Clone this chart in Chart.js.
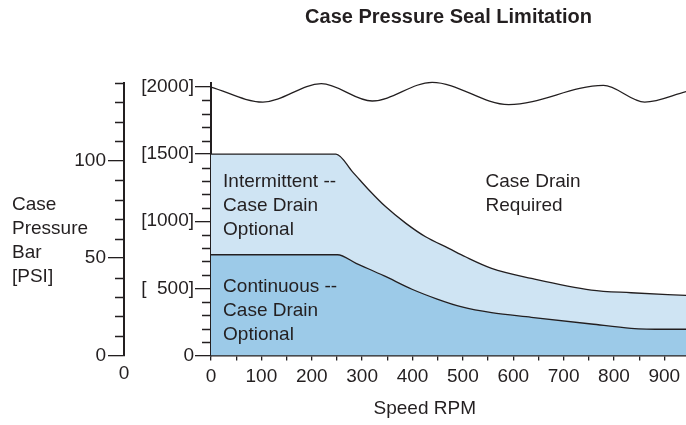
<!DOCTYPE html>
<html>
<head>
<meta charset="utf-8">
<script src="https://cdn.jsdelivr.net/npm/chart.js@4"></script>
<style>
  html, body { margin: 0; padding: 0; background: #fff; }
  #wrap { width: 686px; height: 425px; }
</style>
</head>
<body>
<div id="wrap"><canvas id="sealChart"></canvas></div>
<script>
// speed (RPM) / case pressure (PSI)
const speedContinuous = [0, 251, 288, 344, 399, 449, 498, 557, 636, 755, 834, 901, 943];
const psiContinuous   = [750, 750, 686, 592, 493, 420, 361, 318, 284, 234, 202, 195, 195];

const speedIntermittent = [0, 248, 281, 314, 347, 387, 426, 472, 505, 557, 636, 755, 834, 943];
const psiIntermittent   = [1500, 1500, 1368, 1231, 1107, 984, 884, 798, 735, 649, 574, 487, 467, 447];

// the wavy "break" line near the top of the scale
const speedWave = [0, 103, 219, 320, 439, 591, 779, 861, 943];
const psiWave   = [2000, 1888, 2025, 1896, 2035, 1869, 2012, 1888, 1966];

// axis ticks
const speedTicks = [0, 50, 100, 150, 200, 250, 300, 350, 400, 450, 500, 550, 600, 650, 700, 750, 800, 850, 900];
const psiTicks = [0, 500, 1000, 1500, 2000];
const psiTickLabels = ['0', '[  500]', '[1000]', '[1500]', '[2000]'];
const barTicks = [0, 50, 100];

const FONT = '"Liberation Sans", Arial, sans-serif';
const INK = '#231f20';

function pts(xs, ys) {
  return xs.map((x, i) => ({ x: x, y: ys[i] }));
}

// short minor ticks on the two pressure axes + free text
const extras = {
  id: 'extras',
  afterDraw(chart) {
    const ctx = chart.ctx;
    const psi = chart.scales.psi, bar = chart.scales.bar, x = chart.scales.x;
    ctx.save();
    ctx.strokeStyle = INK;
    ctx.lineWidth = 1.3;
    ctx.beginPath();
    for (let v = 100; v <= 2000; v += 100) {
      if (psiTicks.includes(v)) continue;
      const y = Math.round(psi.getPixelForValue(v)) + 0.5;
      ctx.moveTo(psi.right - 9, y); ctx.lineTo(psi.right, y);
    }
    for (let v = 10; v <= 140; v += 10) {
      if (barTicks.includes(v)) continue;
      const y = Math.round(bar.getPixelForValue(v)) + 0.5;
      ctx.moveTo(bar.right - 9, y); ctx.lineTo(bar.right, y);
    }
    ctx.stroke();

    ctx.fillStyle = INK;
    ctx.font = '19px ' + FONT;
    ctx.textBaseline = 'middle';

    // "0" under the outer bar axis
    ctx.textAlign = 'center';
    ctx.fillText('0', bar.right, chart.chartArea.bottom + 18);

    ctx.textAlign = 'left';
    const block = (lines, px, py) => {
      lines.forEach((t, i) => ctx.fillText(t, px, py + i * 24));
    };
    block(['Case', 'Pressure', 'Bar', '[PSI]'], 12, 205);
    block(['Intermittent --', 'Case Drain', 'Optional'], x.getPixelForValue(24), psi.getPixelForValue(1293));
    block(['Continuous --', 'Case Drain', 'Optional'], x.getPixelForValue(24), psi.getPixelForValue(512));
    block(['Case Drain', 'Required'], x.getPixelForValue(545), psi.getPixelForValue(1293));
    ctx.restore();
  }
};

new Chart(document.getElementById('sealChart'), {
  type: 'line',
  data: {
    datasets: [
      {
        data: pts(speedContinuous, psiContinuous),
        yAxisID: 'psi',
        fill: 'origin',
        backgroundColor: '#9ccae8',
        borderColor: INK,
        borderWidth: 1.3,
        pointRadius: 0,
        cubicInterpolationMode: 'monotone'
      },
      {
        data: pts(speedIntermittent, psiIntermittent),
        yAxisID: 'psi',
        fill: 'origin',
        backgroundColor: '#cfe4f3',
        borderColor: INK,
        borderWidth: 1.3,
        pointRadius: 0,
        cubicInterpolationMode: 'monotone'
      },
      {
        data: pts(speedWave, psiWave),
        yAxisID: 'psi',
        fill: false,
        borderColor: INK,
        borderWidth: 1.3,
        pointRadius: 0,
        clip: false,
        cubicInterpolationMode: 'monotone'
      }
    ]
  },
  options: {
    responsive: true,
    maintainAspectRatio: false,
    animation: false,
    layout: { padding: { left: 0, right: 0, top: 0, bottom: 1 } },
    plugins: {
      legend: { display: false },
      tooltip: { enabled: false },
      title: {
        display: true,
        text: 'Case Pressure Seal Limitation',
        fullSize: false,
        color: INK,
        font: { family: FONT, size: 20, weight: 'bold' },
        padding: { top: 5, bottom: 54 }
      }
    },
    scales: {
      x: {
        type: 'linear',
        min: 0,
        max: 943,
        afterBuildTicks: s => { s.ticks = speedTicks.map(v => ({ value: v })); },
        grid: { drawOnChartArea: false, tickLength: 5, color: INK, lineWidth: 1.3 },
        border: { color: INK, width: 1.5 },
        ticks: {
          autoSkip: false,
          maxRotation: 0,
          padding: 5,
          color: INK,
          font: { family: FONT, size: 19 },
          callback: v => (v % 100 === 0 ? String(v) : '')
        },
        title: {
          display: true,
          text: 'Speed RPM' + '\u00a0'.repeat(9),
          color: INK,
          font: { family: FONT, size: 19 },
          padding: { top: 4, bottom: 4 }
        }
      },
      psi: {
        type: 'linear',
        position: 'left',
        weight: 0,
        min: 0,
        max: 2030,
        afterBuildTicks: s => { s.ticks = psiTicks.map(v => ({ value: v })); },
        grid: { drawOnChartArea: false, tickLength: 16, color: INK, lineWidth: 1.3 },
        border: { color: INK, width: 2 },
        ticks: {
          autoSkip: false,
          padding: 1,
          color: INK,
          font: { family: FONT, size: 19 },
          callback: (v, i) => psiTickLabels[i]
        },
        afterFit: s => { s.width = 87; }
      },
      bar: {
        type: 'linear',
        position: 'left',
        weight: 1,
        min: 0,
        max: 140,
        afterBuildTicks: s => { s.ticks = barTicks.map(v => ({ value: v })); },
        grid: { drawOnChartArea: false, tickLength: 16, color: INK, lineWidth: 1.3 },
        border: { color: INK, width: 2 },
        ticks: {
          autoSkip: false,
          padding: 2,
          color: INK,
          font: { family: FONT, size: 19 },
          callback: v => String(v)
        },
        afterFit: s => { s.width = 124; }
      }
    }
  },
  plugins: [extras]
});
</script>
</body>
</html>
